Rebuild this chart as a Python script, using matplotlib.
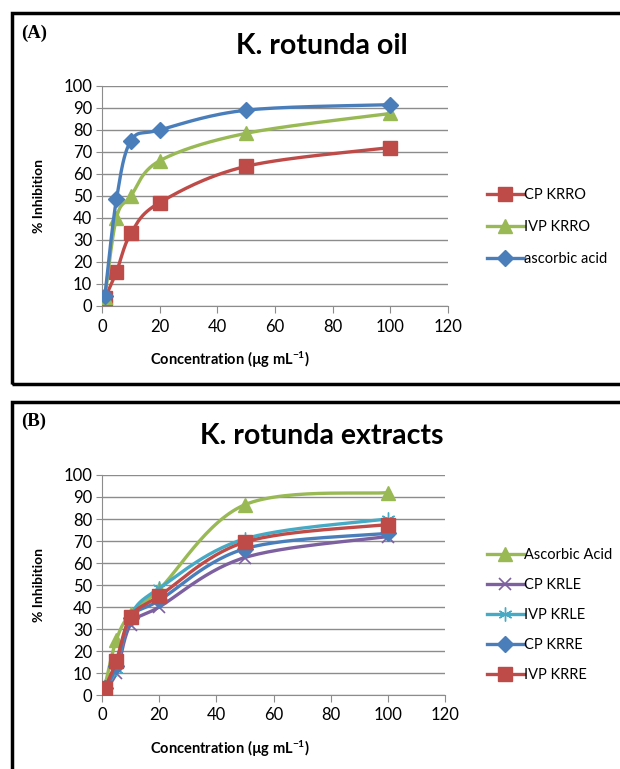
import numpy as np
import matplotlib.pyplot as plt
from matplotlib.patches import Rectangle
from matplotlib.lines import Line2D

# --- Data ---
conc = [1, 5, 10, 20, 50, 100]

# Panel A: K. rotunda oil
cp_krro = [3.5, 15.5, 33, 47, 63.5, 72]
ivp_krro = [4, 40, 50, 66, 78.5, 87.5]
ascorbic_a = [4.5, 48.5, 75, 80, 89, 91.5]

# Panel B: K. rotunda extracts
ascorbic_b = [4, 25, 37, 48, 86.5, 92]
cp_krle = [3, 10, 32, 40, 62.5, 72]
ivp_krle = [3, 12, 36, 48.5, 71, 80]
cp_krre = [3, 13, 35, 43, 66.5, 73.5]
ivp_krre = [3, 15.5, 35.5, 45, 69.5, 77.5]

BLUE = "#4A7EBB"
RED = "#BE4B48"
GREEN = "#98B954"
PURPLE = "#7D60A0"
CYAN = "#46AAC5"

FONT = "Lato"
W, H = 620, 769

plt.rcParams["mathtext.fontset"] = "custom"
plt.rcParams["mathtext.rm"] = "Lato:bold"
plt.rcParams["mathtext.it"] = "Lato:bold"
plt.rcParams["mathtext.bf"] = "Lato:bold"


def smooth(xs, ys, xscale=1.3, n=30):
    """Excel-like smoothed line (Catmull-Rom through the points)."""
    p = np.column_stack([np.asarray(xs, float) * xscale, np.asarray(ys, float)])
    p = np.vstack([p[0], p, p[-1]])
    out = []
    for i in range(1, len(p) - 2):
        p0, p1, p2, p3 = p[i - 1], p[i], p[i + 1], p[i + 2]
        c1 = p1 + (p2 - p0) / 6
        c2 = p2 - (p3 - p1) / 6
        t = np.linspace(0, 1, n)[:, None]
        seg = ((1 - t) ** 3) * p1 + 3 * ((1 - t) ** 2) * t * c1 + 3 * (1 - t) * t ** 2 * c2 + t ** 3 * p2
        out.append(seg)
    out = np.vstack(out)
    return out[:, 0] / xscale, out[:, 1]


def ax_rect(x0, x1, y_top, y_bot):
    return [x0 / W, 1 - y_bot / H, (x1 - x0) / W, (y_bot - y_top) / H]


def style_axes(ax, x0, x1):
    ax.set_xlim(0, 120)
    ax.set_ylim(0, 100)
    ax.set_xticks(range(0, 121, 20))
    ax.set_yticks(range(0, 101, 10))
    ax.yaxis.grid(True, color="#8c8c8c", linewidth=1.0)
    ax.set_axisbelow(True)
    for s in ["top", "right"]:
        ax.spines[s].set_visible(False)
    ax.spines["left"].set_color("#8c8c8c")
    ax.spines["bottom"].set_color("#8c8c8c")
    ax.tick_params(axis="x", direction="out", length=5, color="#8c8c8c", labelsize=12, pad=4)
    ax.tick_params(axis="y", direction="out", length=4, color="#8c8c8c", labelsize=12, pad=3)
    for lab in ax.get_xticklabels() + ax.get_yticklabels():
        lab.set_fontfamily(FONT)
    ax.set_ylabel("% Inhibition", fontsize=10, fontweight="bold", fontfamily=FONT)
    ax.yaxis.set_label_coords((45 - x0) / (x1 - x0), 0.5)
    ax.set_xlabel(r"Concentration (µg mL$^{-1}$)", fontsize=10.5, fontweight="bold",
                  fontfamily=FONT)
    ax.xaxis.set_label_coords((230 - x0) / (x1 - x0), -0.2)


def draw(ax, ys, color, marker, ms, mew=1.0, lw=2.4, z=3):
    sx, sy = smooth(conc, ys)
    ax.plot(sx, sy, color=color, linewidth=lw, zorder=z, solid_capstyle="round")
    ax.plot(conc, ys, linestyle="none", marker=marker, markersize=ms, color=color,
            markeredgecolor=color, markeredgewidth=mew, zorder=z + 0.5)


fig = plt.figure(figsize=(W / 100, H / 100), dpi=100)

# panel frames
fig.add_artist(Rectangle((12 / W, 1 - 384 / H), 640 / W, (384 - 13) / H, transform=fig.transFigure,
                         fill=False, edgecolor="black", linewidth=2.5))
fig.add_artist(Rectangle((12 / W, 1 - 800 / H), 640 / W, (800 - 402) / H, transform=fig.transFigure,
                         fill=False, edgecolor="black", linewidth=2.5))

# --- Panel A ---
axA = fig.add_axes(ax_rect(102, 448, 86, 306))
style_axes(axA, 102, 448)
draw(axA, ascorbic_a, BLUE, "D", 8.5, z=5)
draw(axA, ivp_krro, GREEN, "^", 10, z=4)
draw(axA, cp_krro, RED, "s", 9.5, z=3)
fig.text(21 / W, 1 - 33 / H, "(A)", fontsize=13.5, fontweight="bold", fontfamily="Liberation Serif",
         va="center", ha="left")
fig.text(322 / W, 1 - 46 / H, "K. rotunda oil", fontsize=20.5, fontweight="bold", fontfamily=FONT,
         va="center", ha="center")

handlesA = [
    Line2D([], [], color=RED, lw=2.4, marker="s", ms=9.5, mec=RED),
    Line2D([], [], color=GREEN, lw=2.4, marker="^", ms=10, mec=GREEN),
    Line2D([], [], color=BLUE, lw=2.4, marker="D", ms=8.5, mec=BLUE),
]
fig.legend(handlesA, ["CP KRRO", "IVP KRRO", "ascorbic acid"], loc="center left",
           bbox_to_anchor=(474 / W, 1 - 227 / H), frameon=False, handlelength=2.5, handletextpad=0.05,
           labelspacing=1.25, prop={"family": FONT, "size": 10.5})

# --- Panel B ---
axB = fig.add_axes(ax_rect(102, 445, 475, 695))
style_axes(axB, 102, 445)
draw(axB, ascorbic_b, GREEN, "^", 10, z=3)
draw(axB, cp_krle, PURPLE, "x", 9, mew=1.2, z=4)
draw(axB, ivp_krle, CYAN, (6, 2, 0), 10, mew=1.0, z=5)
draw(axB, cp_krre, BLUE, "D", 8, z=6)
draw(axB, ivp_krre, RED, "s", 10, z=7)
fig.text(21 / W, 1 - 421 / H, "(B)", fontsize=13.5, fontweight="bold", fontfamily="Liberation Serif",
         va="center", ha="left")
fig.text(322 / W, 1 - 436 / H, "K. rotunda extracts", fontsize=20.5, fontweight="bold", fontfamily=FONT,
         va="center", ha="center")

handlesB = [
    Line2D([], [], color=GREEN, lw=2.4, marker="^", ms=10, mec=GREEN),
    Line2D([], [], color=PURPLE, lw=2.4, marker="x", ms=9, mew=1.2, mec=PURPLE),
    Line2D([], [], color=CYAN, lw=2.4, marker=(6, 2, 0), ms=10, mec=CYAN),
    Line2D([], [], color=BLUE, lw=2.4, marker="D", ms=8, mec=BLUE),
    Line2D([], [], color=RED, lw=2.4, marker="s", ms=10, mec=RED),
]
fig.legend(handlesB, ["Ascorbic Acid", "CP KRLE", "IVP KRLE", "CP KRRE", "IVP KRRE"], loc="center left",
           bbox_to_anchor=(474 / W, 1 - 615 / H), frameon=False, handlelength=2.5, handletextpad=0.05,
           labelspacing=1.1, prop={"family": FONT, "size": 10.5})

fig.savefig("out.png", dpi=100)
